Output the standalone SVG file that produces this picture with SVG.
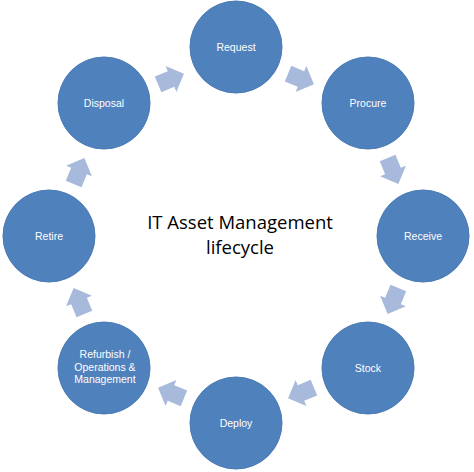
<svg xmlns="http://www.w3.org/2000/svg" width="474" height="472" viewBox="0 0 474 472">
<style>
.node circle{fill:#4F81BD;stroke:#4A7AB4;stroke-width:1}
.node text{fill:#fff;font-family:"Liberation Sans",Arial,sans-serif;font-size:10.5px;text-anchor:middle}
.arr{fill:#A7BADB}
.title{fill:#000;font-family:"Open Sans","Liberation Sans",sans-serif;font-size:18.5px;text-anchor:middle}
</style>
<defs>
<radialGradient id="g" cx="50%" cy="45%" r="55%">
<stop offset="0" stop-color="#5285C2"/>
<stop offset="1" stop-color="#4A7BB8"/>
</radialGradient>
<path id="a" d="M-14,-8.5 L0,-8.5 L0,-14 L14,0 L0,14 L0,8.5 L-14,8.5 Z"/>
</defs>
<rect width="474" height="472" fill="#fff"/>
<g id="connectors">
<use href="#a" class="arr" transform="translate(301,79) rotate(22.5)"/>
<use href="#a" class="arr" transform="translate(393,171) rotate(67.5)"/>
<use href="#a" class="arr" transform="translate(393,301) rotate(112.5)"/>
<use href="#a" class="arr" transform="translate(301,393) rotate(157.5)"/>
<use href="#a" class="arr" transform="translate(171,393) rotate(202.5)"/>
<use href="#a" class="arr" transform="translate(79,301) rotate(247.5)"/>
<use href="#a" class="arr" transform="translate(79,171) rotate(292.5)"/>
<use href="#a" class="arr" transform="translate(171,79) rotate(337.5)"/>
</g>
<g id="request" class="node"><circle cx="236" cy="47" r="46"/><text x="236" y="51">Request</text></g>
<g id="procure" class="node"><circle cx="368" cy="103" r="46"/><text x="368" y="107">Procure</text></g>
<g id="receive" class="node"><circle cx="423" cy="236" r="46"/><text x="423" y="240">Receive</text></g>
<g id="stock" class="node"><circle cx="368" cy="368" r="46"/><text x="368" y="372">Stock</text></g>
<g id="deploy" class="node"><circle cx="236" cy="423" r="46"/><text x="236" y="427">Deploy</text></g>
<g id="refurbish" class="node"><circle cx="104" cy="368" r="46"/><text x="105" y="358">Refurbish /</text><text x="105" y="370.5">Operations &amp;</text><text x="105" y="383">Management</text></g>
<g id="retire" class="node"><circle cx="49" cy="236" r="46"/><text x="49" y="240">Retire</text></g>
<g id="disposal" class="node"><circle cx="104" cy="103" r="46"/><text x="104" y="107">Disposal</text></g>
<g id="center-label">
<text class="title" x="240" y="229">IT Asset Management</text>
<text class="title" x="240" y="254">lifecycle</text>
</g>
</svg>
